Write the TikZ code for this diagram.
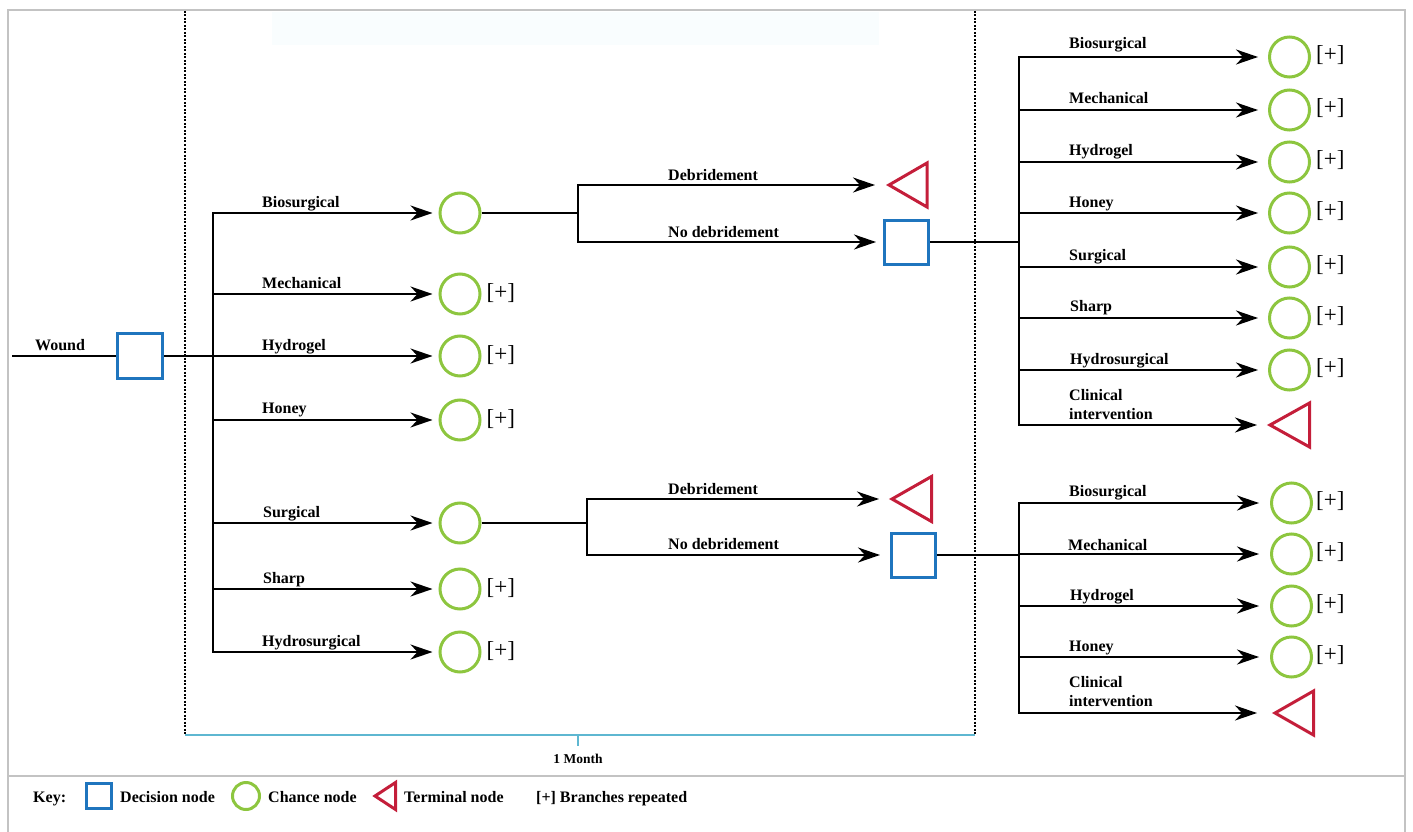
\documentclass[tikz,border=0pt]{standalone}
\usepackage{fontspec}
\setmainfont{Liberation Serif}
\usetikzlibrary{arrows.meta}
\definecolor{decblue}{RGB}{31,117,190}
\definecolor{chgreen}{RGB}{141,198,63}
\definecolor{termred}{RGB}{196,30,58}
\definecolor{framegray}{RGB}{195,195,195}
\definecolor{timecyan}{RGB}{94,183,209}
\definecolor{faintcyan}{RGB}{249,253,254}
\newcommand\termtri[5]{%
  \coordinate (#1) at (#2,#3);
  \draw[termstyle] (#1) -- ++(#4,-#5) -- ++(0,2*#5) -- cycle;}
\begin{document}
\begin{tikzpicture}[x=1pt,y=-1pt,
  conn/.style={line width=1.8pt, black},
  arr/.style={conn, -{Stealth[length=22pt,width=15pt,inset=7pt]}},
  decision/.style={rectangle, draw=decblue, line width=3pt, minimum size=44pt, inner sep=0pt},
  chance/.style={circle, draw=chgreen, line width=3pt, minimum size=40pt, inner sep=0pt},
  termstyle/.style={draw=termred, line width=3pt, line join=miter},
  lbl/.style={font=\bfseries\fontsize{16}{19}\selectfont, inner sep=0pt, anchor=base west},
  lbl2/.style={font=\bfseries\fontsize{16}{19}\selectfont, inner sep=0pt, anchor=south west, align=left},
  rep/.style={font=\fontsize{23}{25}\selectfont, inner sep=0pt, anchor=west},
  keytxt/.style={font=\bfseries\fontsize{16}{19}\selectfont, inner sep=0pt, anchor=base west},
  dotline/.style={black, line width=1.3pt, dash pattern=on 2pt off 1.5pt},
]
\useasboundingbox (0,0) rectangle (1413,832);
% frame
\fill[faintcyan] (272,12) rectangle (879,45);
\draw[framegray, line width=2.5pt] (8,832) -- (8,10) -- (1405,10) -- (1405,832);
\draw[framegray, line width=1.5pt] (8,776) -- (1405,776);
% time window
\draw[dotline] (185,11) -- (185,735);
\draw[dotline] (975,11) -- (975,735);
\draw[timecyan, line width=2pt] (185,735) -- (975,735);
\draw[timecyan, line width=2pt] (578,735) -- (578,746);
\node[font=\bfseries\fontsize{13.5}{15}\selectfont, inner sep=0pt, anchor=base] (month) at (578,763) {1 Month};

% root
\coordinate (start) at (12,356);
\node[decision, minimum size=45pt] (d0) at (140,356) {};
\draw[conn] (start) -- (d0);
\node[lbl] (lw) at (35,350) {Wound};
\coordinate (J0) at (213,356);
\draw[conn] (d0) -- (J0);

% first-level chance nodes
\node[chance] (c1) at (460,213) {};
\node[chance] (c2) at (460,294) {};
\node[chance] (c3) at (460,356) {};
\node[chance] (c4) at (460,420) {};
\node[chance] (c5) at (460,523) {};
\node[chance] (c6) at (460,589) {};
\node[chance] (c7) at (460,652) {};
\foreach \n in {c1,c2,c3,c4,c5,c6,c7} \draw[arr, shorten >=6pt] (J0) |- (\n);
\node[lbl] at (262,207) {Biosurgical};
\node[lbl] at (262,288) {Mechanical};
\node[lbl] at (262,350) {Hydrogel};
\node[lbl] at (262,413) {Honey};
\node[lbl] at (263,517) {Surgical};
\node[lbl] at (263,583) {Sharp};
\node[lbl] at (262,646) {Hydrosurgical};
\foreach \n in {c2,c3,c4,c6,c7} \node[rep] at ([xshift=5pt,yshift=1pt]\n.east) {[+]};

% upper middle
\coordinate (J1) at (578,213);
\draw[conn] (c1) -- (J1);
\termtri{T1}{889}{185}{38}{22}
\node[decision] (d1) at (906.5,242) {};
\draw[arr, shorten >=14pt] (J1) |- (T1);
\draw[arr, shorten >=7pt] (J1) |- (d1);
\node[lbl] at (668,180) {Debridement};
\node[lbl] at (668,237) {No debridement};

% lower middle
\coordinate (J3) at (587,523);
\draw[conn] (c5) -- (J3);
\termtri{T2}{892}{499}{39.5}{22.5}
\node[decision] (d2) at (913.5,555) {};
\draw[arr, shorten >=13pt] (J3) |- (T2);
\draw[arr, shorten >=10pt] (J3) |- (d2);
\node[lbl] at (668,494) {Debridement};
\node[lbl] at (668,549) {No debridement};

% upper right
\coordinate (J2) at (1019,242);
\draw[conn] (d1) -- (J2);
\node[chance] (u1) at (1289.5,57) {};
\node[chance] (u2) at (1289.5,110) {};
\node[chance] (u3) at (1289.5,162) {};
\node[chance] (u4) at (1289.5,213) {};
\node[chance] (u5) at (1289.5,267) {};
\node[chance] (u6) at (1289.5,318) {};
\node[chance] (u7) at (1289.5,370) {};
\termtri{T3}{1270}{425}{39.5}{22}
\foreach \n in {u1,u2,u3,u4,u5,u6,u7} {\draw[arr, shorten >=10pt] (J2) |- (\n); \node[rep] at ([xshift=5pt,yshift=2pt]\n.east) {[+]};}
\draw[arr, shorten >=13pt] (J2) |- (T3);
\node[lbl] at (1069,49) {Biosurgical};
\node[lbl] at (1069,104) {Mechanical};
\node[lbl] at (1069,156) {Hydrogel};
\node[lbl] at (1069,207) {Honey};
\node[lbl] at (1069,260) {Surgical};
\node[lbl] at (1070,311) {Sharp};
\node[lbl] at (1070,364) {Hydrosurgical};
\node[lbl2] at (1069,420) {Clinical\\intervention};

% lower right
\coordinate (J4) at (1019,555);
\draw[conn] (d2) -- (J4);
\node[chance] (w1) at (1291.5,503) {};
\node[chance] (w2) at (1291.5,554) {};
\node[chance] (w3) at (1291.5,606) {};
\node[chance] (w4) at (1291.5,657) {};
\termtri{T4}{1275}{713}{38.5}{22}
\foreach \n in {w1,w2,w3,w4} {\draw[arr, shorten >=11pt] (J4) |- (\n); \node[rep] at ([xshift=3pt,yshift=2pt]\n.east) {[+]};}
\draw[arr, shorten >=18pt] (J4) |- (T4);
\node[lbl] at (1069,496) {Biosurgical};
\node[lbl] at (1068,550) {Mechanical};
\node[lbl] at (1070,600) {Hydrogel};
\node[lbl] at (1069,651) {Honey};
\node[lbl2] at (1069,707) {Clinical\\intervention};

% key
\node[keytxt] (k0) at (33,802) {Key:};
\node[decision, minimum size=25pt] (k1) at (99,796) {};
\node[keytxt] (k2) at (120,802) {Decision node};
\node[chance, minimum size=27pt] (k3) at (246,796) {};
\node[keytxt] (k4) at (268,802) {Chance node};
\termtri{k5}{375}{796}{20.5}{13.5}
\node[keytxt] (k6) at (404,802) {Terminal node};
\node[keytxt] (k7) at (536,802) {[+] Branches repeated};
\end{tikzpicture}
\end{document}
